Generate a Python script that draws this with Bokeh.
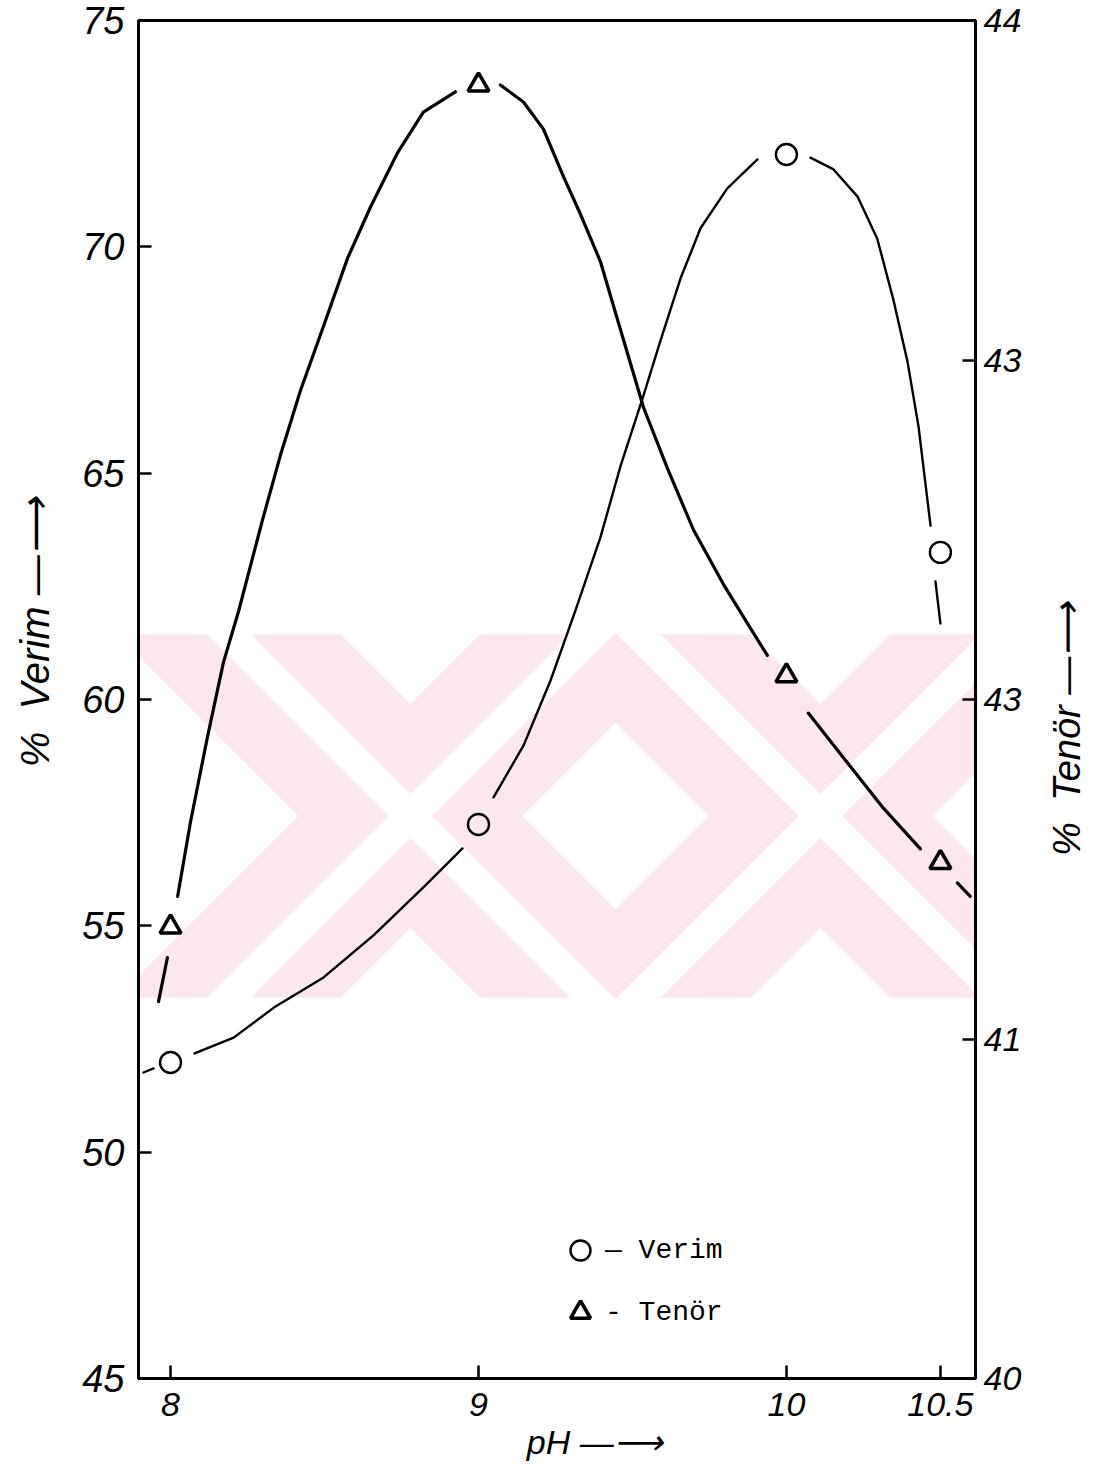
import math
from bokeh.plotting import figure
from bokeh.layouts import row
from bokeh.models import Range1d, LinearAxis, FixedTicker, Legend, LegendItem, Label
from bokeh.embed import file_html
from bokeh.resources import INLINE

# ---------------- data ----------------
ph_ticks = [8, 9, 10, 10.5]
ph_tick_labels = ["8", "9", "10", "10.5"]
verim_ticks = [45, 50, 55, 60, 65, 70, 75]
tenor_ticks = [40, 41, 42, 43, 44]
tenor_tick_labels = ["40", "41", "43", "43", "44"]   # as printed on the original

ph_points = [8, 9, 10, 10.5]
verim = [51.98, 57.24, 72.04, 63.25]      # % Verim (left axis)
tenor = [41.33, 43.81, 42.07, 41.52]      # % Tenör (right axis)

# hand-drawn curves (segments are broken around the markers)
verim_curve_x = [
    [7.912, 7.945],
    [8.078, 8.205, 8.341, 8.497, 8.659, 8.821, 8.948],
    [9.049, 9.146, 9.234, 9.315, 9.396, 9.461, 9.536, 9.591, 9.656, 9.721, 9.808, 9.906],
    [10.078, 10.153, 10.231, 10.295, 10.347, 10.393, 10.429, 10.468],
    [10.484, 10.500],
]
verim_curve_y = [
    [51.76, 51.85],
    [52.18, 52.53, 53.22, 53.86, 54.79, 55.85, 56.71],
    [57.84, 58.98, 60.42, 61.97, 63.58, 65.15, 66.72, 67.93, 69.30, 70.41, 71.29, 71.93],
    [71.97, 71.71, 71.11, 70.18, 68.84, 67.47, 66.03, 63.84],
    [62.61, 61.68],
]
tenor_curve_x = [
    [7.990, 7.961],
    [8.023, 8.065, 8.120, 8.172, 8.221, 8.299, 8.357, 8.422, 8.497, 8.575, 8.649, 8.737, 8.821, 8.925],
    [9.071, 9.146, 9.211, 9.276, 9.331, 9.396, 9.461, 9.536, 9.614, 9.698, 9.795, 9.883, 9.938],
    [10.071, 10.175, 10.315, 10.435],
    [10.555, 10.597],
]
tenor_curve_y = [
    [41.24, 41.11],
    [41.42, 41.64, 41.89, 42.11, 42.26, 42.53, 42.72, 42.91, 43.10, 43.30, 43.45, 43.61, 43.73, 43.79],
    [43.81, 43.76, 43.68, 43.54, 43.43, 43.29, 43.09, 42.86, 42.68, 42.50, 42.34, 42.21, 42.13],
    [41.96, 41.84, 41.68, 41.56],
    [41.46, 41.42],
]

# ---------------- figure ----------------
X0, X1 = 7.896, 10.614
Y0, Y1 = 45, 75
FRAME_L, FRAME_T, FW, FH = 138, 20, 837, 1358
RIGHT_B, BOTTOM_B = 60, 101
SIDE_W = 60
TOTAL_H = FRAME_T + FH + BOTTOM_B

fig = figure(frame_width=FW, frame_height=FH,
             x_range=Range1d(X0, X1), y_range=Range1d(Y0, Y1),
             output_backend="svg", toolbar_location=None,
             min_border_left=FRAME_L, min_border_right=RIGHT_B,
             min_border_top=FRAME_T, min_border_bottom=BOTTOM_B)
fig.extra_y_ranges = {"tenor": Range1d(40, 44)}
fig.background_fill_color = "white"
fig.border_fill_color = "white"
fig.outline_line_color = "black"
fig.outline_line_width = 3
fig.xgrid.visible = False
fig.ygrid.visible = False

# ---------------- watermark (decorative background) ----------------
def px2x(px):
    return X0 + (px - FRAME_L) / FW * (X1 - X0)

def py2y(py):
    return Y1 - (py - FRAME_T) / FH * (Y1 - Y0)

WM_TOP, WM_BOT, WM_CY = 634, 997, 815.5

def band(cx, sign, a, b):
    def c(y):
        return cx + sign * (y - WM_CY)
    xs = [c(WM_TOP) + a, c(WM_TOP) + b, c(WM_BOT) + b, c(WM_BOT) + a]
    ys = [WM_TOP, WM_TOP, WM_BOT, WM_BOT]
    return [px2x(v) for v in xs], [py2y(v) for v in ys]

pink_xs, pink_ys, white_xs, white_ys = [], [], [], []
for cx in (410, 820):
    for s in (1, -1):
        bx, by = band(cx, s, -112, 112)
        pink_xs.append(bx); pink_ys.append(by)
        wx, wy = band(cx, s, -22, 22)
        white_xs.append(wx); white_ys.append(wy)
fig.patches(pink_xs, pink_ys, fill_color="#fce8ec", line_color=None, level="underlay")
fig.patches(white_xs, white_ys, fill_color="white", line_color=None, level="underlay")

# ---------------- curves and markers ----------------
fig.multi_line(verim_curve_x, verim_curve_y, line_color="black", line_width=2.4,
               line_join="round", line_cap="round")
fig.multi_line(tenor_curve_x, tenor_curve_y, line_color="black", line_width=3.2,
               line_join="round", line_cap="round", y_range_name="tenor")
r_v = fig.scatter(ph_points, verim, marker="circle", size=21, fill_color=None,
                  line_color="black", line_width=2.4)
r_t = fig.scatter(ph_points, tenor, marker="triangle", size=21, fill_color=None,
                  line_color="black", line_width=3.6, y_range_name="tenor")

# ---------------- axes ----------------
TICK_FONT = "Liberation Sans"
NB = "\u00a0"

xa = fig.xaxis[0]
xa.ticker = FixedTicker(ticks=ph_ticks)
xa.major_label_overrides = {k: v for k, v in zip(ph_ticks, ph_tick_labels)}
xa.axis_label = NB * 8 + "pH \u2014\u27f6"

ya = fig.yaxis[0]
ya.ticker = FixedTicker(ticks=verim_ticks)
ya.axis_label = NB * 12 + "%" + NB * 2 + "Verim \u2014\u27f6"

ra = LinearAxis(y_range_name="tenor", ticker=FixedTicker(ticks=tenor_ticks))
ra.major_label_overrides = {k: v for k, v in zip(tenor_ticks, tenor_tick_labels)}
fig.add_layout(ra, "right")

for ax in (xa, ya, ra):
    ax.axis_line_color = "black"
    ax.axis_line_width = 3
    ax.major_tick_in = 13
    ax.major_tick_out = 0
    ax.major_tick_line_width = 2.5
    ax.minor_tick_line_color = None
    ax.major_label_text_font = TICK_FONT
    ax.major_label_text_font_style = "italic"
    ax.major_label_text_color = "black"
    ax.axis_label_text_font = TICK_FONT
    ax.axis_label_text_font_style = "italic"
    ax.axis_label_text_color = "black"

xa.major_label_text_font_size = "34px"
xa.major_label_standoff = 14
xa.axis_label_text_font_size = "34px"
xa.axis_label_standoff = 4

ya.major_label_text_font_size = "38px"
ya.major_label_standoff = 14
ya.axis_label_text_font_size = "40px"
ya.axis_label_standoff = 22

ra.major_label_text_font_size = "34px"
ra.major_label_standoff = 8

# ---------------- legend ----------------
legend = Legend(items=[LegendItem(label="\u2014 Verim", renderers=[r_v]),
                       LegendItem(label="- Tenör", renderers=[r_t])],
                location=(417, 41))
legend.glyph_width = 50
legend.glyph_height = 50
legend.label_height = 50
legend.spacing = 12
legend.padding = 0
legend.margin = 0
legend.label_standoff = 0
legend.border_line_color = None
legend.background_fill_alpha = 0
legend.label_text_font = "Liberation Mono"
legend.label_text_font_size = "28px"
legend.label_text_color = "black"
fig.add_layout(legend, "center")

# ---------------- right-hand title strip (reads upwards like the original) ----------------
left_px = FRAME_L + FW + RIGHT_B
side = figure(width=SIDE_W, height=TOTAL_H,
              x_range=Range1d(left_px, left_px + SIDE_W), y_range=Range1d(TOTAL_H, 0),
              output_backend="svg", toolbar_location=None,
              min_border=0, min_border_left=0, min_border_right=0,
              min_border_top=0, min_border_bottom=0)
side.axis.visible = False
side.xgrid.visible = False
side.ygrid.visible = False
side.outline_line_color = None
side.background_fill_color = "white"
side.border_fill_color = "white"
side.add_layout(Label(x=1066, y=772, text="%" + NB * 2 + "Tenör \u2014\u27f6",
                      angle=math.pi / 2, angle_units="rad",
                      text_align="center", text_baseline="middle",
                      text_font=TICK_FONT, text_font_style="italic",
                      text_font_size="38px", text_color="black"))

p = row(fig, side, spacing=0)

open("out.html", "w").write(file_html(p, INLINE))
